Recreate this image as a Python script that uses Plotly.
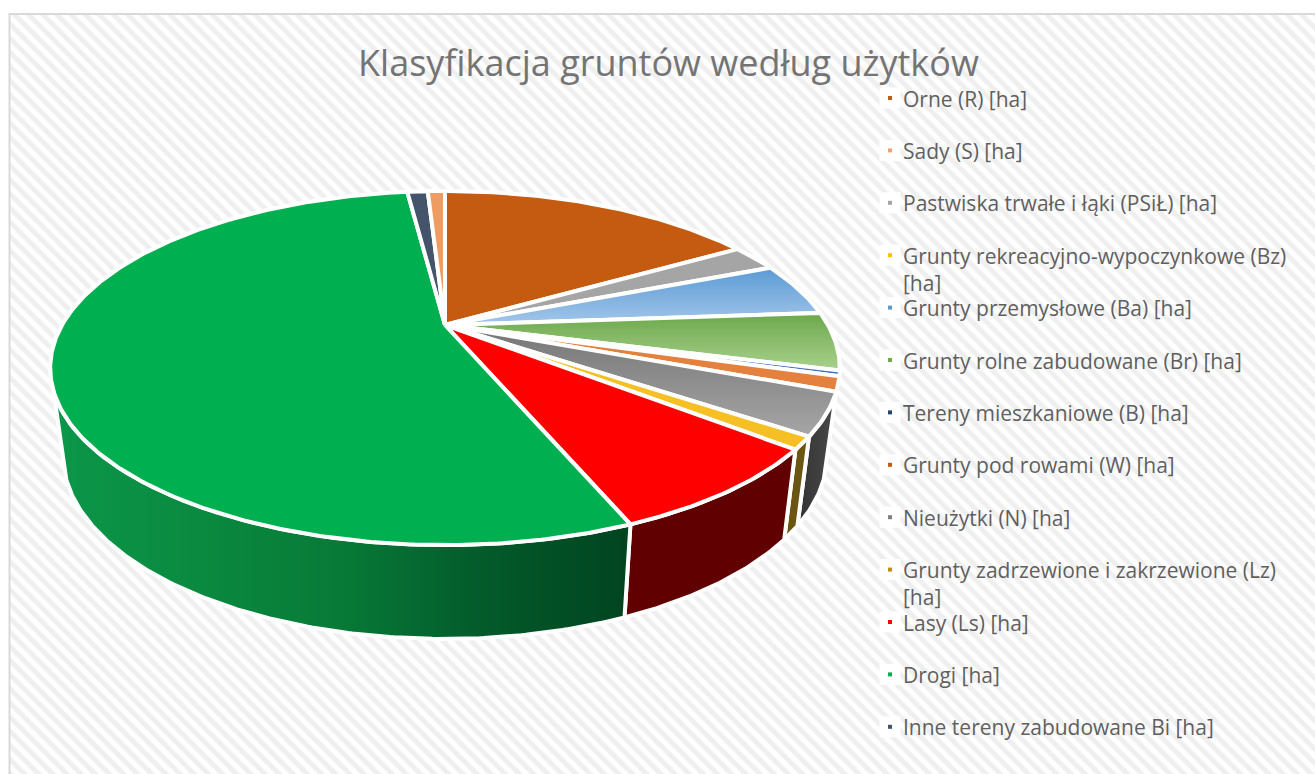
import numpy as np
import plotly.graph_objects as go

# ---- data (estimated shares, per cent) ----
slice_names = ["Orne (R) [ha]", "Pastwiska trwałe i łąki (PSiŁ) [ha]", "Grunty przemysłowe (Ba) [ha]",
               "Grunty rolne zabudowane (Br) [ha]", "Tereny mieszkaniowe (B) [ha]", "Grunty pod rowami (W) [ha]",
               "Nieużytki (N) [ha]", "Grunty zadrzewione i zakrzewione (Lz) [ha]", "Lasy (Ls) [ha]",
               "Drogi [ha]", "Inne tereny zabudowane Bi [ha]", "Sady (S) [ha]"]
slice_values = [16.44, 2.44, 4.94, 5.30, 0.50, 1.33, 3.82, 1.14, 7.97, 54.17, 1.06, 0.89]
slice_top = ["#C55A11", "#A5A5A5", ("#A3C6EA", "#5B9BD5"), ("#A9D18E", "#6BA84A"), "#4472C4", "#E5813F",
             ("#A6A6A6", "#757575"), "#F6C025", "#FF0000", "#00B050", "#44546A", "#EF9C63"]
slice_side = [None, None, None, None, None, None, ("#333333", "#4A4A4A"), "#6B5512", "#600000",
              ("#0B9749", "#0A8A40", "#077A37", "#035A2A", "#004420"), None, None]

legend_labels = ["Orne (R) [ha]", "Sady (S) [ha]", "Pastwiska trwałe i łąki (PSiŁ) [ha]",
                 "Grunty rekreacyjno-wypoczynkowe (Bz)<br>[ha]", "Grunty przemysłowe (Ba) [ha]",
                 "Grunty rolne zabudowane (Br) [ha]", "Tereny mieszkaniowe (B) [ha]", "Grunty pod rowami (W) [ha]",
                 "Nieużytki (N) [ha]", "Grunty zadrzewione i zakrzewione (Lz)<br>[ha]", "Lasy (Ls) [ha]",
                 "Drogi [ha]", "Inne tereny zabudowane Bi [ha]"]
legend_colors = ["#C55A11", "#F4A06E", "#A5A5A5", "#FFC000", "#5B9BD5", "#70AD47", "#264478", "#C55A11",
                 "#7F7F7F", "#BF9000", "#FF0000", "#00B050", "#44546A"]
title_text = "Klasyfikacja gruntów według użytków"

# ---- layout constants ----
W, H = 1315, 774
APEX_X, APEX_Y = 445.0, 325.0
RX, HY, K = 383.0, 166.6, -0.243
SX, SY, DEPTH = 0.968, 0.04, 90.0
FONT = "Open Sans, Noto Sans, sans-serif"
GREY = "#5F5F5F"


def top_rim(deg):
    t = np.radians(np.asarray(deg, float))
    a, b = np.sin(t), -np.cos(t)
    w = 1 + K * b
    return APEX_X + RX * a / w, APEX_Y + HY * b / w


def bottom_rim(deg):
    x, y = top_rim(deg)
    return APEX_X + SX * (x - APEX_X), y + DEPTH + SY * (y - 449)


def arc(a0, a1):
    return np.linspace(a0, a1, max(int(abs(a1 - a0) * 2), 2) + 1)


def fill_kw(spec, orient):
    if isinstance(spec, str):
        return dict(fillcolor=spec)
    n = len(spec) - 1
    return dict(fillgradient=dict(type=orient, colorscale=[[i / n, c] for i, c in enumerate(spec)]))


fig = go.Figure()

# hatched chart background
fig.add_trace(go.Scatter(x=[10, W + 5, W + 5, 10, 10], y=[15, 15, H + 5, H + 5, 15], mode="none", fill="toself",
                         fillcolor="white", hoverinfo="skip", showlegend=False,
                         fillpattern=dict(shape="\\", size=10, solidity=0.5, fgcolor="#E0E0E0", bgcolor="#FFFFFF")))

edges = 360 * np.cumsum([0] + slice_values) / sum(slice_values)

# side walls
for i, side in enumerate(slice_side):
    if side is None:
        continue
    a0, a1 = edges[i], edges[i + 1]
    a1 = min(a1, 256.0)
    d = arc(a0, a1)
    tx, ty = top_rim(d)
    bx, by = bottom_rim(d)
    fig.add_trace(go.Scatter(x=np.r_[tx, bx[::-1], tx[0]], y=np.r_[ty, by[::-1], ty[0]], mode="lines", fill="toself",
                             line=dict(color="white", width=4), hoverinfo="skip", showlegend=False,
                             **fill_kw(side, "horizontal")))

# top faces
for i, top in enumerate(slice_top):
    d = arc(edges[i], edges[i + 1])
    tx, ty = top_rim(d)
    fig.add_trace(go.Scatter(x=np.r_[APEX_X, tx, APEX_X], y=np.r_[APEX_Y, ty, APEX_Y], mode="lines", fill="toself",
                             line=dict(color="white", width=4), name=slice_names[i], showlegend=False,
                             hoverinfo="name", **fill_kw(top, "vertical")))

# legend
rows = 98 + 52.4 * np.arange(len(legend_labels))
fig.add_trace(go.Scatter(x=[890] * len(rows), y=rows, mode="markers", hoverinfo="skip", showlegend=False,
                         marker=dict(symbol="square", size=21, color="white", line=dict(width=0))))
fig.add_trace(go.Scatter(x=[890] * len(rows), y=rows, mode="markers", hoverinfo="skip", showlegend=False,
                         marker=dict(symbol="square", size=4, color=legend_colors, line=dict(width=0))))

annotations = [dict(x=668, y=62, xref="x", yref="y", text=title_text, showarrow=False,
                    font=dict(family=FONT, size=36, color="#747474"), xanchor="center", yanchor="middle")]
for lab, r in zip(legend_labels, rows):
    annotations.append(dict(x=903, y=r - 15.5, xref="x", yref="y", text=lab, showarrow=False, align="left",
                            font=dict(family=FONT, size=21, color=GREY), xanchor="left", yanchor="top",
                            xshift=-2, yshift=0))

fig.update_layout(
    width=W, height=H, margin=dict(l=0, r=0, t=0, b=0), paper_bgcolor="white", plot_bgcolor="white",
    xaxis=dict(range=[0, W], visible=False, fixedrange=True),
    yaxis=dict(range=[H, 0], visible=False, fixedrange=True),
    showlegend=False, annotations=annotations,
    shapes=[
        dict(type="rect", x0=866, x1=W + 5, y0=85, y1=752, line=dict(width=0), fillcolor="rgba(255,255,255,0.72)",
             layer="below"),
        dict(type="rect", x0=9.5, x1=W + 5, y0=14, y1=H + 5, line=dict(color="#D9D9D9", width=2),
             fillcolor="rgba(0,0,0,0)", layer="above"),
    ],
)

fig.write_html("out.html", config=dict(displayModeBar=False),
               post_script="document.body.style.margin='0';document.documentElement.style.overflow='hidden';")
